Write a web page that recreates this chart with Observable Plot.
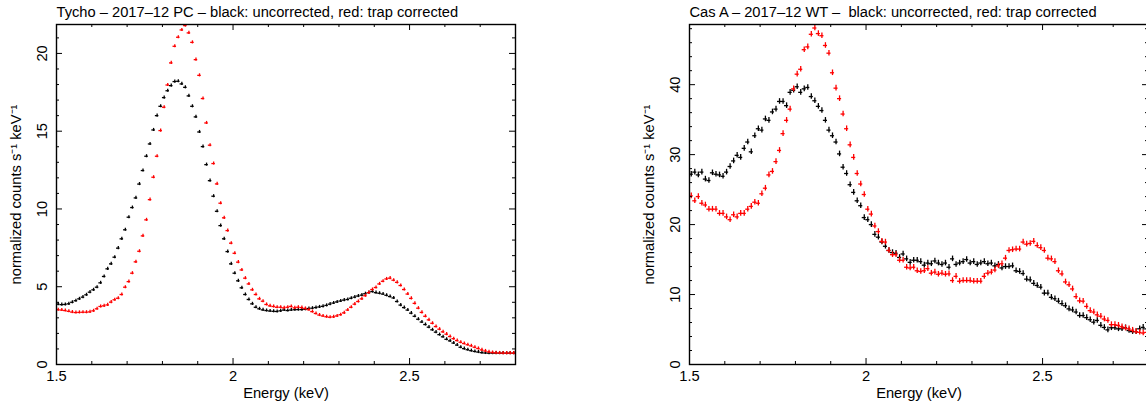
<!DOCTYPE html>
<html><head><meta charset="utf-8">
<script src="https://cdn.jsdelivr.net/npm/d3@7"></script>
<script src="https://cdn.jsdelivr.net/npm/@observablehq/plot@0.6"></script>
<style>
html,body{margin:0;padding:0;background:#fff;overflow:hidden;width:1146px;height:403px;}
#wrap{position:relative;width:1146px;height:403px;display:flex;overflow:hidden;}
#wrap svg{display:block;flex:none;}
</style></head><body><div id="wrap"></div>
<script>
// Bin centres (keV)
const energy = [
1.505,1.515,1.525,1.535,1.545,1.555,1.565,1.575,1.585,1.595,
1.605,1.615,1.625,1.635,1.645,1.655,1.665,1.675,1.685,1.695,
1.705,1.715,1.725,1.735,1.745,1.755,1.765,1.775,1.785,1.795,
1.805,1.815,1.825,1.835,1.845,1.855,1.865,1.875,1.885,1.895,
1.905,1.915,1.925,1.935,1.945,1.955,1.965,1.975,1.985,1.995,
2.005,2.015,2.025,2.035,2.045,2.055,2.065,2.075,2.085,2.095,
2.105,2.115,2.125,2.135,2.145,2.155,2.165,2.175,2.185,2.195,
2.205,2.215,2.225,2.235,2.245,2.255,2.265,2.275,2.285,2.295,
2.305,2.315,2.325,2.335,2.345,2.355,2.365,2.375,2.385,2.395,
2.405,2.415,2.425,2.435,2.445,2.455,2.465,2.475,2.485,2.495,
2.505,2.515,2.525,2.535,2.545,2.555,2.565,2.575,2.585,2.595,
2.605,2.615,2.625,2.635,2.645,2.655,2.665,2.675,2.685,2.695,
2.705,2.715,2.725,2.735,2.745,2.755,2.765,2.775,2.785,2.795];

// Tycho 2017-12 PC
const tychoUncorrected = [
3.88,3.85,3.86,3.90,4.00,4.10,4.22,4.33,4.48,4.65,
4.80,4.97,5.25,5.66,6.15,6.47,6.90,7.48,8.08,8.66,
9.47,10.09,10.71,11.60,12.47,13.39,14.18,15.08,16.00,16.60,
17.16,17.60,17.93,18.19,18.21,18.04,17.82,17.27,16.60,15.92,
14.95,14.01,12.85,11.82,10.82,9.85,8.93,8.08,7.26,6.47,
5.87,5.38,4.93,4.50,4.18,3.90,3.68,3.58,3.51,3.47,
3.44,3.42,3.41,3.45,3.50,3.47,3.50,3.52,3.53,3.53,
3.55,3.60,3.62,3.66,3.70,3.74,3.80,3.88,3.95,4.02,
4.08,4.14,4.18,4.26,4.33,4.40,4.46,4.55,4.62,4.69,
4.62,4.58,4.53,4.45,4.37,4.28,4.05,3.82,3.66,3.50,
3.30,3.10,2.91,2.73,2.57,2.40,2.23,2.08,1.92,1.78,
1.62,1.52,1.38,1.25,1.11,1.02,0.95,0.89,0.84,0.80,
0.76,0.74,0.73,0.73,0.73,0.73,0.73,0.73,0.73,0.73];
const tychoCorrected = [
3.52,3.50,3.47,3.42,3.37,3.34,3.35,3.36,3.36,3.38,
3.45,3.58,3.73,3.77,3.83,4.01,4.16,4.26,4.50,4.97,
5.33,5.87,6.60,7.28,8.27,9.30,10.60,12.04,13.39,15.04,
16.54,17.97,19.39,20.46,21.04,21.51,21.79,21.32,20.71,19.60,
18.59,17.10,15.53,14.10,12.92,11.61,10.37,9.43,8.61,7.80,
7.15,6.58,6.08,5.55,5.18,4.80,4.50,4.22,4.07,3.86,
3.77,3.73,3.68,3.68,3.64,3.68,3.73,3.64,3.68,3.66,
3.60,3.52,3.40,3.28,3.18,3.12,3.07,3.04,3.06,3.12,
3.20,3.32,3.50,3.68,3.88,4.05,4.22,4.42,4.62,4.82,
4.95,5.18,5.35,5.50,5.55,5.42,5.28,5.08,4.82,4.53,
4.25,3.93,3.62,3.35,3.10,2.87,2.65,2.44,2.27,2.10,
1.95,1.80,1.66,1.54,1.43,1.35,1.27,1.20,1.11,1.03,
0.94,0.87,0.81,0.77,0.75,0.74,0.73,0.73,0.73,0.73];

// Cas A 2017-12 WT
const casUncorrected = [
27.2,27.5,27.1,27.5,26.5,26.3,27.4,27.2,27.1,26.9,
27.5,28.3,29.1,29.9,29.6,30.9,31.8,30.4,32.7,33.7,
33.5,35.1,34.9,36.1,36.5,37.6,37.6,37.0,38.9,39.2,
39.7,38.9,39.4,39.6,38.3,37.7,36.9,36.3,34.9,33.5,
32.7,31.8,30.1,28.2,27.3,25.7,24.6,23.4,22.7,21.0,
20.7,20.0,18.6,18.2,17.5,16.9,16.3,16.0,15.9,15.3,
15.8,15.1,14.6,14.9,14.9,14.7,14.2,14.5,14.4,14.8,
14.5,14.3,14.5,13.9,15.1,14.3,14.5,14.7,15.0,14.5,
14.7,14.3,14.5,14.7,14.4,14.5,14.1,14.3,13.8,14.0,
14.0,14.1,13.4,13.3,13.0,12.2,12.1,11.6,11.3,11.05,
10.2,10.2,9.6,9.4,9.05,8.7,8.4,7.95,7.8,7.5,
7.0,7.0,6.7,6.4,6.05,6.3,5.6,5.3,4.95,5.25,
5.25,5.1,5.1,5.25,4.85,4.7,4.7,5.1,5.3,5.1];
const casCorrected = [
24.1,23.4,24.0,23.05,22.8,22.2,22.2,22.2,21.6,21.6,
21.1,20.7,21.4,21.1,21.6,21.6,22.2,22.6,23.2,23.05,
24.4,25.2,27.1,27.6,29.0,30.6,33.0,34.9,36.5,39.4,
41.5,42.2,45.0,45.4,47.2,48.1,47.3,47.0,45.6,44.5,
41.7,39.5,38.0,35.8,33.7,31.4,29.6,27.3,25.8,24.3,
22.2,21.5,19.8,19.0,17.6,17.5,16.3,15.7,15.7,14.9,
14.9,13.9,13.8,13.9,13.4,13.3,13.4,13.7,13.05,13.2,
12.9,13.05,12.9,12.95,12.0,12.6,11.9,12.0,12.0,12.0,
11.9,11.9,11.9,12.6,13.05,13.2,13.5,14.1,14.4,15.2,
16.3,16.4,16.5,16.5,17.5,17.2,17.3,17.6,17.0,16.7,
16.3,15.2,15.1,14.7,13.4,12.95,11.8,11.4,10.8,9.7,
9.1,9.05,8.3,7.7,7.5,7.1,6.9,6.5,6.3,5.7,
5.7,5.6,5.4,5.2,5.1,4.9,4.7,4.6,4.5,4.6];

// Axis ticks and labels
const xMajor = [1.5, 2, 2.5];
const xTickLabels = ["1.5", "2", "2.5"];
const xMinor = [1.6, 1.7, 1.8, 1.9, 2.1, 2.2, 2.3, 2.4, 2.6, 2.7];
const tychoYMajor = [0, 5, 10, 15, 20];
const tychoYMinor = [1,2,3,4,6,7,8,9,11,12,13,14,16,17,18,19,21];
const casYMajor = [0, 10, 20, 30, 40];
const casYMinor = [2,4,6,8,12,14,16,18,22,24,26,28,32,34,36,38,42,44,46,48];

const tychoTitle = "Tycho – 2017–12 PC – black: uncorrected, red: trap corrected";
const casTitle = "Cas A – 2017–12 WT –  black: uncorrected, red: trap corrected";
const xLabel = "Energy (keV)";
const yLabel = "normalized counts s⁻¹ keV⁻¹";

const FONT = "'Liberation Sans', Arial, Helvetica, sans-serif";
const FS = 14.7;

function panel({title, uncorrected, corrected, yMax, yMajor, yMinor, err, half, sw, width, marginLeft, marginRight}) {
  const H = 340;
  const W = width - marginLeft - marginRight;
  const rowsU = energy.map((e, i) => ({e, v: uncorrected[i]}));
  const rowsC = energy.map((e, i) => ({e, v: corrected[i]}));
  const series = (rows, color) => [
    Plot.ruleX(rows, {x: "e", y1: d => d.v - err, y2: d => d.v + err, stroke: color, strokeWidth: sw, clip: true}),
    Plot.ruleY(rows, {y: "v", x1: d => d.e - half, x2: d => d.e + half, stroke: color, strokeWidth: sw, clip: true})
  ];
  const tickStyle = {stroke: "#000", strokeWidth: 1};
  const txt = {fontSize: FS, fill: "#000", textAnchor: "middle", lineAnchor: "middle"};
  return Plot.plot({
    width, height: 403,
    marginLeft, marginRight, marginTop: 24, marginBottom: 39,
    x: {domain: [1.5, 2.8], axis: null},
    y: {domain: [0, yMax], axis: null},
    style: {fontFamily: FONT, fontSize: FS + "px", color: "#000", background: "#fff", overflow: "visible"},
    marks: [
      ...series(rowsU, "#000"),
      ...series(rowsC, "#ff0000"),
      Plot.tickX(xMinor, {x: d => d, insetTop: H - 3, ...tickStyle}),
      Plot.tickX(xMinor, {x: d => d, insetBottom: H - 3, ...tickStyle}),
      Plot.tickX(xMajor, {x: d => d, insetTop: H - 6, ...tickStyle}),
      Plot.tickX(xMajor, {x: d => d, insetBottom: H - 6, ...tickStyle}),
      Plot.tickY(yMinor, {y: d => d, insetRight: W - 3, ...tickStyle}),
      Plot.tickY(yMinor, {y: d => d, insetLeft: W - 3, ...tickStyle}),
      Plot.tickY(yMajor, {y: d => d, insetRight: W - 6, ...tickStyle}),
      Plot.tickY(yMajor, {y: d => d, insetLeft: W - 6, ...tickStyle}),
      Plot.frame({stroke: "#000", strokeWidth: 1.4}),
      Plot.text(xMajor, {x: d => d, frameAnchor: "bottom", dy: 12, text: (d, i) => xTickLabels[i], ...txt}),
      Plot.text(yMajor, {y: d => d, frameAnchor: "left", dx: -14, rotate: -90, text: d => String(d), ...txt}),
      Plot.text([xLabel], {frameAnchor: "bottom", dy: 29, text: d => d, ...txt}),
      Plot.text([yLabel], {frameAnchor: "left", dx: -40, rotate: -90, text: d => d, ...txt}),
      Plot.text([title], {frameAnchor: "top-left", dy: -12, text: d => d, ...txt, textAnchor: "start"})
    ]
  });
}

const wrap = document.getElementById("wrap");
wrap.appendChild(panel({
  title: tychoTitle, uncorrected: tychoUncorrected, corrected: tychoCorrected,
  yMax: 21.86, yMajor: tychoYMajor, yMinor: tychoYMinor, err: 0.1, half: 0.005, sw: 1.3,
  width: 573, marginLeft: 56, marginRight: 58
}));
wrap.appendChild(panel({
  title: casTitle, uncorrected: casUncorrected, corrected: casCorrected,
  yMax: 48.6, yMajor: casYMajor, yMinor: casYMinor, err: 0.4, half: 0.0058, sw: 1.3,
  width: 576, marginLeft: 116, marginRight: 1
}));
</script></body></html>
